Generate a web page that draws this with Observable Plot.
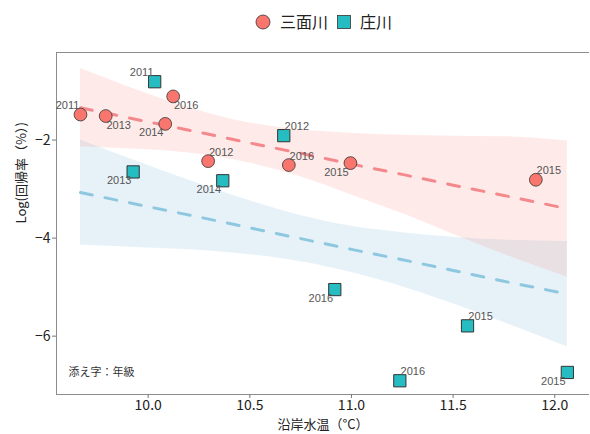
<!DOCTYPE html>
<html>
<head>
<meta charset="utf-8">
<script src="https://cdn.jsdelivr.net/npm/d3@7"></script>
<script src="https://cdn.jsdelivr.net/npm/@observablehq/plot@0.6"></script>
<style>
  html, body { margin: 0; padding: 0; background: #fff; }
  body { width: 590px; height: 434px; overflow: hidden; font-family: "Noto Sans CJK JP", "Noto Sans", sans-serif; }
  #legend { width: 590px; height: 51px; }
  #chart svg { display: block; }
</style>
</head>
<body>
<div id="legend"></div>
<div id="chart"></div>
<script>
// ---- data ----
const riverNames = ["三面川", "庄川"];
const riverColors = ["#F8766D", "#26BDC2"];

const sanmenYears = [2011, 2013, 2016, 2014, 2012, 2016, 2015, 2015];
const sanmenTemp  = [9.667, 9.791, 10.123, 10.084, 10.295, 10.692, 10.995, 11.907];
const sanmenLog   = [-1.48, -1.51, -1.11, -1.67, -2.43, -2.51, -2.47, -2.81];
const sanmenLabelPos = ["ul", "lr", "lr", "ll", "ur", "ur", "ll", "ur"];

const shoYears = [2011, 2013, 2014, 2012, 2016, 2015, 2016, 2015];
const shoTemp  = [10.032, 9.926, 10.367, 10.667, 10.918, 11.571, 11.238, 12.062];
const shoLog   = [-0.81, -2.65, -2.83, -1.91, -5.05, -5.79, -6.91, -6.74];
const shoLabelPos = ["ul", "ll", "ll", "ur", "ll", "ur", "ur", "ll"];

// fitted lines and confidence bands
const fitTemp   = [9.667, 10.0, 10.25, 10.5, 10.75, 11.0, 11.25, 11.5, 11.75, 12.062];
const sanmenFit = [-1.34, -1.63, -1.84, -2.06, -2.27, -2.49, -2.70, -2.92, -3.13, -3.40];
const sanmenLo  = [-2.14, -2.20, -2.29, -2.47, -2.75, -3.12, -3.50, -3.92, -4.33, -4.80];
const sanmenHi  = [-0.54, -1.06, -1.40, -1.65, -1.79, -1.86, -1.90, -1.92, -1.93, -2.02];
const shoFit    = [-3.07, -3.36, -3.57, -3.79, -4.01, -4.23, -4.44, -4.66, -4.88, -5.14];
const shoLo     = [-4.14, -4.20, -4.25, -4.34, -4.48, -4.70, -4.99, -5.34, -5.72, -6.22];
const shoHi     = [-2.00, -2.52, -2.89, -3.24, -3.54, -3.76, -3.89, -3.98, -4.04, -4.07];

const xTicks = [10.0, 10.5, 11.0, 11.5, 12.0];
const yTicks = [-2, -4, -6];
const xDomain = [9.549, 12.171];
const yDomain = [-7.19, -0.214];

const xTitle = "沿岸水温（°C）";
const yTitle = "Log(回帰率（%）)";
const note = "添え字：年級";

// ---- tables ----
const points = [
  ...sanmenYears.map((yr, i) => ({river: riverNames[0], year: yr, temp: sanmenTemp[i], log: sanmenLog[i], pos: sanmenLabelPos[i]})),
  ...shoYears.map((yr, i) => ({river: riverNames[1], year: yr, temp: shoTemp[i], log: shoLog[i], pos: shoLabelPos[i]}))
];
const sanmenBand = fitTemp.map((t, i) => ({temp: t, fit: sanmenFit[i], lo: sanmenLo[i], hi: sanmenHi[i]}));
const shoBand = fitTemp.map((t, i) => ({temp: t, fit: shoFit[i], lo: shoLo[i], hi: shoHi[i]}));

// ---- legend ----
{
  const svg = d3.select("#legend").append("svg").attr("width", 590).attr("height", 51);
  const g = svg.append("g").style("font-family", "'Noto Sans CJK JP', sans-serif");
  g.append("circle").attr("cx", 263).attr("cy", 22).attr("r", 7).attr("fill", riverColors[0]).attr("stroke", "#333").attr("stroke-width", 0.8);
  g.append("text").attr("x", 280).attr("y", 22).attr("dy", "0.36em").attr("font-size", 16).attr("fill", "#222").text(riverNames[0]);
  g.append("rect").attr("x", 337.5).attr("y", 15.5).attr("width", 13).attr("height", 13).attr("fill", riverColors[1]).attr("stroke", "#333").attr("stroke-width", 0.8);
  g.append("text").attr("x", 360).attr("y", 22).attr("dy", "0.36em").attr("font-size", 16).attr("fill", "#222").text(riverNames[1]);
}

// ---- chart ----
const offs = {ul: [-13, -9], ur: [13, -9], ll: [-14, 9], lr: [13, 9]};
const labelMarks = Object.entries(offs).map(([k, [dx, dy]]) =>
  Plot.text(points.filter(d => d.pos === k), {
    x: "temp", y: "log", text: d => String(d.year), dx, dy,
    fontSize: 11, fill: "#555", fontFamily: "'Liberation Sans', Arial, sans-serif"
  })
);
const minusFmt = d => (d < 0 ? "\u2212" : "") + Math.abs(d);

const chart = Plot.plot({
  width: 590,
  height: 383,
  marginTop: 1,
  marginBottom: 40,
  marginLeft: 56,
  marginRight: 1,
  style: {fontFamily: "'Noto Sans CJK JP', sans-serif", background: "#fff", color: "#222"},
  x: {domain: xDomain},
  y: {domain: yDomain},
  marks: [
    Plot.areaY(shoBand, {x: "temp", y1: "lo", y2: "hi", fill: "#6BAED6", fillOpacity: 0.16, curve: "monotone-x"}),
    Plot.areaY(sanmenBand, {x: "temp", y1: "lo", y2: "hi", fill: "#F8766D", fillOpacity: 0.15, curve: "monotone-x"}),
    Plot.lineY(shoBand, {x: "temp", y: "fit", stroke: "#8EC8E0", strokeWidth: 3, strokeDasharray: "12,13"}),
    Plot.lineY(sanmenBand, {x: "temp", y: "fit", stroke: "#F4898D", strokeWidth: 3, strokeDasharray: "12,13"}),
    Plot.ruleX([xDomain[0]], {stroke: "#8c8c8c", strokeWidth: 1}),
    Plot.ruleY([yDomain[0], yDomain[1]], {stroke: "#8c8c8c", strokeWidth: 1}),
    Plot.axisX({ticks: xTicks, tickFormat: d3.format(".1f"), tickSize: 4, tickPadding: 2, fontSize: 14, stroke: "#777", fill: "#222", label: null}),
    Plot.axisY({ticks: yTicks, tickFormat: minusFmt, tickSize: 4, tickPadding: 2, fontSize: 14, stroke: "#777", fill: "#222", label: null}),
    Plot.dot(points.filter(d => d.river === riverNames[0]), {x: "temp", y: "log", r: 6.4, fill: riverColors[0], stroke: "#333", strokeWidth: 0.8}),
    Plot.dot(points.filter(d => d.river === riverNames[1]), {x: "temp", y: "log", r: 6.9, symbol: "square", fill: riverColors[1], stroke: "#333", strokeWidth: 1}),
    ...labelMarks,
    Plot.text([note], {text: d => d, frameAnchor: "bottom-left", dx: 12, dy: -19, textAnchor: "start", fontSize: 11, fill: "#333"}),
    Plot.text([xTitle], {text: d => d, frameAnchor: "bottom", dy: 34, fontSize: 13, fill: "#222"}),
    Plot.text([yTitle], {text: d => d, frameAnchor: "left", dx: -35, rotate: -90, fontSize: 13, fill: "#222"})
  ]
});
document.getElementById("chart").appendChild(chart);
</script>
</body>
</html>
